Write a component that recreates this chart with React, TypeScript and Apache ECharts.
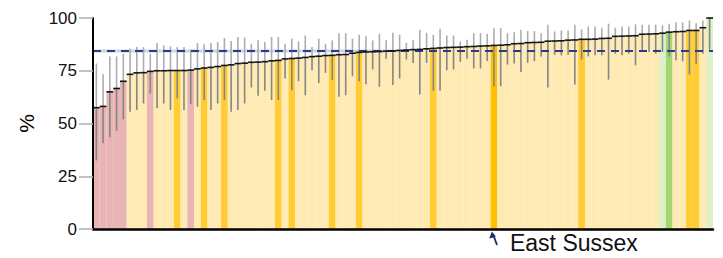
import React, { useEffect, useRef } from "react";
import * as echarts from "echarts";

// Sorted indicator values (%) for each area
const values: number[] = [
  57.5, 58.1, 65.0, 66.6, 70.0, 73.3, 74.0, 74.1, 74.7, 75.0,
  75.0, 75.1, 75.1, 75.1, 75.3, 75.9, 76.3, 76.6, 77.0, 77.5,
  77.8, 78.4, 78.6, 79.0, 79.1, 79.3, 79.7, 79.9, 80.6, 80.8,
  81.0, 81.3, 81.7, 81.9, 82.2, 82.3, 82.6, 82.7, 83.3, 83.7,
  83.9, 84.0, 84.1, 84.3, 84.4, 84.6, 84.8, 85.0, 85.1, 85.4,
  85.6, 85.8, 86.0, 86.1, 86.2, 86.4, 86.5, 86.7, 86.8, 87.0,
  87.1, 87.3, 87.8, 87.9, 88.3, 88.4, 88.5, 89.0, 89.1, 89.2,
  89.5, 89.6, 89.9, 89.9, 90.0, 90.3, 90.4, 91.3, 91.4, 91.5,
  91.6, 92.3, 92.4, 92.5, 92.8, 93.3, 93.5, 93.6, 94.1, 94.1,
  95.4, 100,
];

// Lower confidence limits
const lower: number[] = [
  32.5, 40.6, 43.5, 46.6, 52.0, 55.6, 56.4, 59.5, 64.2, 57.2,
  59.5, 56.4, 61.9, 56.4, 59.2, 57.9, 61.1, 56.4, 59.5, 61.1,
  55.6, 56.4, 59.5, 67.1, 63.1, 65.5, 61.1, 61.1, 71.3, 65.8,
  70.0, 63.4, 75.2, 69.2, 74.0, 70.5, 62.7, 63.4, 72.4, 70.0,
  68.6, 75.6, 67.4, 80.7, 68.2, 71.3, 80.3, 78.7, 63.8, 78.7,
  65.5, 65.5, 75.2, 75.6, 79.2, 80.7, 76.1, 76.1, 79.6, 67.7,
  67.7, 77.9, 78.4, 74.4, 78.7, 79.5, 81.8, 67.1, 82.6, 82.3,
  82.6, 68.5, 80.3, 81.8, 82.3, 82.3, 70.8, 83.1, 82.3, 83.1,
  77.6, 83.9, 83.9, 83.1, 83.9, 81.8, 80.0, 79.5, 73.2, 78.1,
  83.1, 85.0,
];

// Upper confidence limits
const upper: number[] = [
  78.4, 73.3, 81.8, 81.8, 83.1, 85.5, 86.2, 86.2, 83.1, 88.1,
  87.0, 86.6, 86.2, 86.2, 85.0, 88.1, 87.6, 88.1, 88.6, 90.5,
  89.1, 91.0, 90.7, 87.8, 89.4, 88.6, 91.0, 91.0, 87.8, 90.2,
  88.9, 91.7, 86.2, 90.2, 87.8, 89.4, 92.8, 92.8, 90.2, 92.1,
  91.4, 89.4, 92.5, 89.4, 93.0, 92.1, 88.3, 89.4, 94.4, 93.0,
  92.1, 94.9, 91.7, 91.7, 88.9, 89.7, 92.8, 92.8, 92.5, 95.2,
  95.2, 92.8, 93.3, 94.4, 93.8, 93.8, 92.8, 96.8, 93.6, 94.1,
  94.1, 96.8, 94.6, 96.0, 96.0, 95.4, 97.3, 95.4, 96.0, 96.0,
  97.0, 96.8, 96.8, 96.8, 96.5, 97.3, 98.0, 98.0, 98.8, 97.5,
  98.8, 100,
];

// Colour group for each bar: w = worse, s = similar, n = similar (neighbour),
// f = focus area, b = better, bl = better (light)
const groups: string[] = [
  "w", "w", "w", "w", "w", "s", "s", "s", "w", "s",
  "s", "s", "n", "s", "w", "s", "n", "s", "s", "n",
  "s", "s", "s", "s", "s", "s", "s", "n", "s", "n",
  "s", "s", "s", "s", "s", "n", "s", "s", "s", "n",
  "s", "s", "s", "s", "s", "s", "s", "s", "s", "s",
  "n", "s", "s", "s", "s", "s", "s", "s", "s", "f",
  "s", "s", "s", "s", "s", "s", "s", "s", "s", "s",
  "s", "s", "n", "s", "s", "s", "s", "s", "s", "s",
  "s", "s", "s", "s", "bl", "b", "s", "s", "n", "n",
  "s", "bl",
];

const FOCUS_NAME = "East Sussex";
const categories: string[] = values.map((_, i) =>
  groups[i] === "f" ? FOCUS_NAME : `Area ${i + 1}`
);

const benchmark = 84.3;
const benchmarkLow = 83.6;
const benchmarkHigh = 85.1;

const yTicks = [0, 25, 50, 75, 100];

const groupColors: Record<string, string> = {
  w: "#E8B4B4",
  s: "#FEEAB2",
  n: "#FFCC33",
  f: "#FFC000",
  b: "#A6D672",
  bl: "#DDF0C8",
};

const FONT = "'Liberation Sans', Arial, Helvetica, sans-serif";

export default function App() {
  const ref = useRef<HTMLDivElement>(null);

  useEffect(() => {
    if (!ref.current) return;
    const chart = echarts.init(ref.current, undefined, { renderer: "svg" });

    const option: any = {
      animation: false,
      backgroundColor: "#ffffff",
      grid: { left: 93, right: 10, top: 18, bottom: 29, containLabel: false },
      xAxis: {
        type: "category",
        data: categories,
        z: 10,
        axisLine: { show: true, lineStyle: { color: "#000", width: 2.5 } },
        axisTick: { show: false },
        axisLabel: { show: false },
        splitLine: { show: false },
      },
      yAxis: {
        type: "value",
        min: yTicks[0],
        max: yTicks[yTicks.length - 1],
        interval: 25,
        z: 10,
        name: "%",
        nameLocation: "middle",
        nameGap: 56,
        nameTextStyle: { fontSize: 21, color: "#000", fontFamily: FONT },
        axisLine: { show: true, lineStyle: { color: "#000", width: 2 } },
        axisTick: { show: true, length: 14, lineStyle: { color: "#b3b3b3", width: 1.6 } },
        axisLabel: { fontSize: 17, color: "#111", fontFamily: FONT, margin: 16 },
        splitLine: { show: false },
      },
      series: [
        {
          type: "bar",
          data: values.map((v, i) => ({
            value: v,
            itemStyle: { color: groupColors[groups[i]] },
          })),
          barCategoryGap: "0%",
          z: 2,
          markArea: {
            silent: true,
            itemStyle: { color: "rgba(70,80,140,0.25)" },
            data: [[{ yAxis: benchmarkLow }, { yAxis: benchmarkHigh }]],
          },
        },
        {
          type: "custom",
          z: 3,
          data: values.map((v, i) => [i, lower[i], upper[i], v]),
          encode: { x: 0, y: [1, 2, 3] },
          renderItem: (_params: any, api: any) => {
            const idx = api.value(0);
            const lo = api.coord([idx, api.value(1)]);
            const hi = api.coord([idx, api.value(2)]);
            const mid = api.coord([idx, api.value(3)]);
            return {
              type: "group",
              children: [
                {
                  type: "line",
                  shape: { x1: lo[0], y1: lo[1], x2: mid[0], y2: mid[1] },
                  style: { stroke: "#868686", lineWidth: 1.6 },
                },
                {
                  type: "line",
                  shape: { x1: mid[0], y1: mid[1], x2: hi[0], y2: hi[1] },
                  style: { stroke: "#adadad", lineWidth: 1.6 },
                },
              ],
            };
          },
        },
        {
          type: "custom",
          z: 5,
          data: values.map((v, i) => [i, v]),
          encode: { x: 0, y: 1 },
          renderItem: (_params: any, api: any) => {
            const idx = api.value(0);
            const p = api.coord([idx, api.value(1)]);
            const w = api.size([1, 0])[0];
            return {
              type: "line",
              shape: { x1: p[0] - w / 2, y1: p[1], x2: p[0] + w / 2, y2: p[1] },
              style: { stroke: "#111", lineWidth: 1.6 },
            };
          },
          markLine: {
            silent: true,
            symbol: "none",
            label: { show: false },
            lineStyle: { color: "#2b3a8c", width: 2, type: [8, 6] },
            data: [{ yAxis: benchmark }],
          },
        },
      ],
    };

    chart.setOption(option);

    const focusIndex = categories.indexOf(FOCUS_NAME);
    const p = chart.convertToPixel({ xAxisIndex: 0, yAxisIndex: 0 }, [focusIndex, 0]) as number[];
    if (p) {
      const x = p[0];
      const y = p[1];
      chart.setOption({
        graphic: [
          {
            type: "line",
            shape: { x1: x + 3, y1: y + 16, x2: x - 1, y2: y + 5 },
            style: { stroke: "#1f2a6b", lineWidth: 1.8 },
          },
          {
            type: "polygon",
            shape: {
              points: [
                [x - 2, y + 2.5],
                [x - 4.8, y + 9.5],
                [x + 1.8, y + 7.8],
              ],
            },
            style: { fill: "#1f2a6b" },
          },
          {
            type: "text",
            x: x + 16,
            y: y + 2,
            style: {
              text: FOCUS_NAME,
              fontSize: 23,
              fontFamily: FONT,
              fill: "#111",
              textVerticalAlign: "top",
              textAlign: "left",
            },
          },
        ],
      });
    }

    return () => chart.dispose();
  }, []);

  return (
    <div
      ref={ref}
      style={{ position: "fixed", left: 0, top: 0, width: 723, height: 258 }}
    />
  );
}
